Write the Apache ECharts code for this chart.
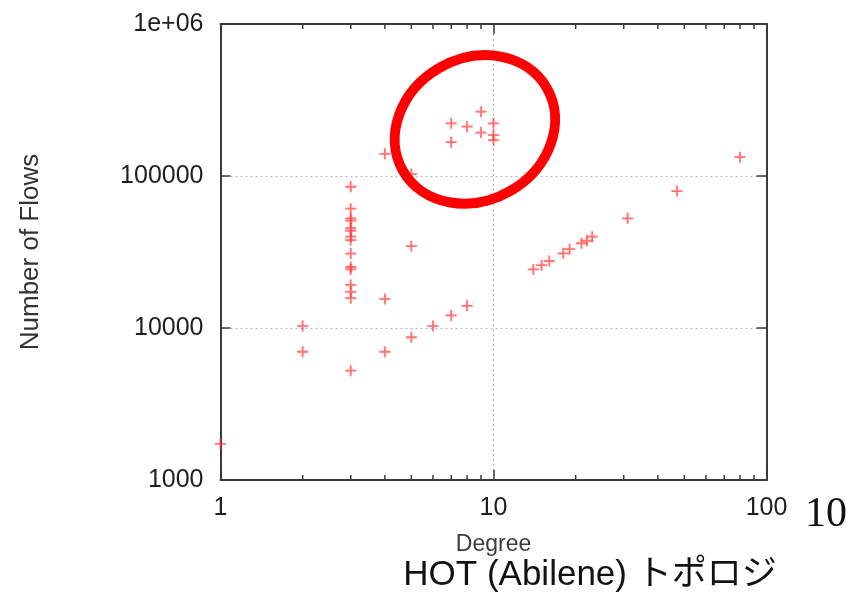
<!DOCTYPE html>
<html>
<head>
<meta charset="utf-8">
<script src="https://cdn.jsdelivr.net/npm/echarts@6/dist/echarts.min.js"></script>
<style>
  html, body { margin: 0; padding: 0; background: #ffffff; }
  #chart { width: 855px; height: 592px; }
</style>
</head>
<body>
<div id="chart"></div>
<script>
// Node degree vs. number of flows (HOT / Abilene topology)
const degrees = [1, 2, 2,
  3, 3, 3, 3, 3, 3, 3, 3, 3, 3, 3, 3, 3, 3, 3,
  4, 4, 4, 5, 5, 5, 6, 7, 7, 7, 8, 8, 9, 9, 10, 10, 10,
  14, 15, 16, 18, 19, 21, 22, 23, 31, 47, 80];
const flows = [1730, 10300, 6980,
  85000, 61000, 52700, 50800, 45300, 43500, 39900, 37900, 30900, 25200, 24300, 19200, 17300, 15700, 5240,
  140000, 15500, 6980, 103000, 34600, 8690, 10300, 222000, 167000, 12100, 211000, 14000, 265000, 193000, 222000, 186000, 172000,
  24300, 25900, 27600, 31000, 33000, 36100, 37500, 39900, 52700, 79600, 133000];

const xTickLabels = ['1', '10', '100'];
const yTickLabels = ['1000', '10000', '100000', '1e+06'];
const xMinorTicks = [2, 3, 4, 5, 6, 7, 8, 9, 20, 30, 40, 50, 60, 70, 80, 90];
const yMinorTicks = [2000, 3000, 4000, 5000, 6000, 7000, 8000, 9000,
  20000, 30000, 40000, 50000, 60000, 70000, 80000, 90000,
  200000, 300000, 400000, 500000, 600000, 700000, 800000, 900000];

const X_MIN = 1, X_MAX = 100, Y_MIN = 1000, Y_MAX = 1000000;
const AXIS_COLOR = '#3a3a3a';
const TEXT_COLOR = '#1e1e1e';
const MARK_COLOR = 'rgba(255, 50, 50, 0.72)';
const SANS = '"Liberation Sans", Arial, Helvetica, sans-serif';

const points = degrees.map((d, i) => [d, flows[i]]);

const chart = echarts.init(document.getElementById('chart'), null, { renderer: 'canvas' });

const majorTick = { show: true, inside: true, length: 10, lineStyle: { color: AXIS_COLOR, width: 1.5 } };
const axisLine = { show: true, lineStyle: { color: AXIS_COLOR, width: 2 } };
const gridLine = { show: true, lineStyle: { color: '#b5b5b5', type: [2, 3], width: 1 } };
const grid = { left: 220.5, right: 88.5, top: 24, bottom: 112 };

// short inward ticks at 2..9 of each decade, on all four sides
function minorTickRenderer(dir) {
  return function (params, api) {
    const cs = params.coordSys;
    const v = api.value(0);
    const len = 5;
    const style = { stroke: AXIS_COLOR, lineWidth: 1.5 };
    if (dir === 'x') {
      const px = api.coord([v, Y_MIN])[0];
      return { type: 'group', children: [
        { type: 'line', shape: { x1: px, y1: cs.y + cs.height, x2: px, y2: cs.y + cs.height - len }, style },
        { type: 'line', shape: { x1: px, y1: cs.y, x2: px, y2: cs.y + len }, style }
      ] };
    }
    const py = api.coord([X_MIN, v])[1];
    return { type: 'group', children: [
      { type: 'line', shape: { x1: cs.x, y1: py, x2: cs.x + len + 1, y2: py }, style },
      { type: 'line', shape: { x1: cs.x + cs.width, y1: py, x2: cs.x + cs.width - len - 1, y2: py }, style }
    ] };
  };
}

chart.setOption({
  backgroundColor: '#ffffff',
  animation: false,
  grid,
  xAxis: [{
    type: 'log', logBase: 10, min: X_MIN, max: X_MAX, position: 'bottom',
    name: 'Degree', nameLocation: 'middle', nameGap: 53,
    nameTextStyle: { fontFamily: SANS, fontSize: 23, color: '#3c3c3c' },
    axisLine, axisTick: majorTick,
    axisLabel: { margin: 16, fontFamily: SANS, fontSize: 25, color: TEXT_COLOR,
      formatter: v => xTickLabels[Math.round(Math.log10(v))] },
    splitLine: gridLine
  }, {
    type: 'log', logBase: 10, min: X_MIN, max: X_MAX, position: 'top',
    axisLine, axisTick: majorTick, axisLabel: { show: false }, splitLine: { show: false }
  }],
  yAxis: [{
    type: 'log', logBase: 10, min: Y_MIN, max: Y_MAX, position: 'left',
    name: 'Number of Flows', nameLocation: 'middle', nameGap: 177, nameRotate: 90,
    nameTextStyle: { fontFamily: SANS, fontSize: 26, color: '#333' },
    axisLine, axisTick: majorTick,
    axisLabel: { margin: 17, fontFamily: SANS, fontSize: 25, color: TEXT_COLOR,
      formatter: v => yTickLabels[Math.round(Math.log10(v)) - 3] },
    splitLine: gridLine
  }, {
    type: 'log', logBase: 10, min: Y_MIN, max: Y_MAX, position: 'right',
    axisLine, axisTick: majorTick, axisLabel: { show: false }, splitLine: { show: false }
  }],
  series: [{
    type: 'scatter',
    data: points,
    symbol: 'path://M-0.9,-5.5H0.9V-0.9H5.5V0.9H0.9V5.5H-0.9V0.9H-5.5V-0.9H-0.9Z',
    symbolSize: 11,
    itemStyle: { color: MARK_COLOR, shadowBlur: 1.5, shadowColor: 'rgba(255,60,60,0.5)' },
    clip: false,
    z: 1
  }, {
    type: 'custom',
    data: xMinorTicks.map(v => [v, Y_MIN]),
    renderItem: minorTickRenderer('x'),
    silent: true, clip: false, z: 3
  }, {
    type: 'custom',
    data: yMinorTicks.map(v => [X_MIN, v]),
    renderItem: minorTickRenderer('y'),
    silent: true, clip: false, z: 3
  }]
});

// highlight ring round the cluster of high-flow nodes
const ringCenter = chart.convertToPixel({ gridIndex: 0 }, [8.55, 201000]);

chart.setOption({
  graphic: [{
    type: 'ellipse',
    x: ringCenter[0], y: ringCenter[1] - 0.5,
    rotation: Math.PI / 6,
    shape: { cx: 0, cy: 0, rx: 83, ry: 71 },
    style: { fill: 'none', stroke: '#ff0000', lineWidth: 10 },
    z: 10
  }, {
    type: 'text',
    x: 826, y: 515,
    style: { text: '10', font: '42px "Liberation Serif", "Times New Roman", serif',
      fill: '#111', align: 'center', verticalAlign: 'middle' },
    z: 10
  }, {
    type: 'text',
    x: 590, y: 575,
    style: { text: 'HOT (Abilene) トポロジ', font: '35px "Liberation Sans", "Noto Sans CJK JP", sans-serif',
      fill: '#111', align: 'center', verticalAlign: 'middle' },
    z: 10
  }]
});
</script>
</body>
</html>
